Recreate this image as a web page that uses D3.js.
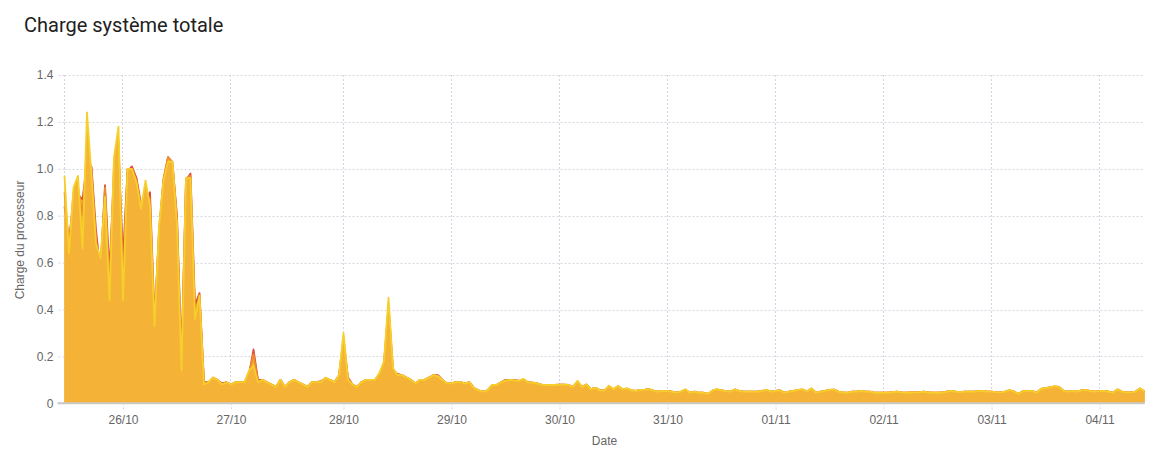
<!DOCTYPE html>
<html>
<head>
<meta charset="utf-8">
<script src="https://cdn.jsdelivr.net/npm/d3@7"></script>
<style>
body { margin: 0; background: #fff; }
svg { display: block; font-family: "Liberation Sans", Arial, sans-serif; }
</style>
</head>
<body>
<svg id="chart" width="1160" height="460"></svg>
<script>
var svg = d3.select("#chart");

// hourly samples starting 25/10/2019 11:00 (CEST)
var startTime = "2019-10-25T11:00:00+02:00";
var stepHours = 1;

var yellowLoad = [
  0.97,0.64,0.92,0.97,0.66,1.24,0.97,0.68,0.62,0.88,
  0.44,1.05,1.18,0.44,1.00,1.00,0.94,0.83,0.95,0.84,
  0.33,0.75,0.95,1.03,1.03,0.76,0.14,0.96,0.96,0.36,
  0.46,0.08,0.09,0.11,0.10,0.08,0.09,0.08,0.09,0.09,
  0.09,0.14,0.16,0.09,0.10,0.09,0.08,0.07,0.10,0.07,
  0.09,0.10,0.09,0.08,0.07,0.09,0.09,0.09,0.11,0.10,
  0.09,0.12,0.30,0.10,0.08,0.07,0.09,0.10,0.10,0.10,
  0.13,0.18,0.45,0.15,0.12,0.12,0.11,0.10,0.085,0.10,
  0.10,0.11,0.12,0.115,0.10,0.085,0.085,0.09,0.09,0.085,
  0.09,0.065,0.055,0.05,0.055,0.078,0.078,0.09,0.097,0.10,
  0.098,0.096,0.104,0.09,0.088,0.085,0.08,0.078,0.078,0.078,
  0.08,0.08,0.078,0.07,0.096,0.07,0.08,0.06,0.066,0.055,
  0.055,0.075,0.06,0.075,0.06,0.064,0.055,0.053,0.057,0.058,
  0.06,0.053,0.05,0.053,0.052,0.05,0.046,0.05,0.06,0.045,
  0.05,0.045,0.045,0.04,0.055,0.06,0.055,0.052,0.05,0.06,
  0.052,0.05,0.05,0.05,0.05,0.053,0.057,0.05,0.053,0.055,
  0.045,0.05,0.053,0.057,0.06,0.05,0.064,0.045,0.05,0.053,
  0.058,0.058,0.05,0.047,0.045,0.05,0.05,0.053,0.05,0.05,
  0.045,0.045,0.045,0.045,0.048,0.05,0.047,0.045,0.046,0.047,
  0.048,0.05,0.046,0.045,0.045,0.046,0.05,0.053,0.05,0.048,
  0.05,0.05,0.05,0.052,0.053,0.05,0.05,0.048,0.047,0.05,
  0.057,0.05,0.04,0.052,0.053,0.053,0.045,0.062,0.065,0.068,
  0.073,0.07,0.053,0.05,0.053,0.05,0.055,0.057,0.052,0.05,
  0.052,0.053,0.05,0.045,0.06,0.05,0.047,0.047,0.05,0.064,0.05
];

var orangeLoad = [
  0.90,0.66,0.90,0.92,0.80,1.10,0.99,0.70,0.58,0.92,
  0.50,1.02,1.12,0.52,1.00,1.00,0.95,0.84,0.90,0.87,
  0.34,0.74,0.96,1.05,1.03,0.78,0.17,0.96,0.97,0.38,
  0.46,0.085,0.09,0.11,0.10,0.08,0.09,0.08,0.09,0.09,
  0.09,0.13,0.21,0.095,0.10,0.09,0.08,0.07,0.10,0.07,
  0.09,0.10,0.09,0.08,0.07,0.09,0.09,0.092,0.108,0.10,
  0.09,0.12,0.28,0.105,0.08,0.07,0.09,0.10,0.10,0.10,
  0.125,0.17,0.42,0.145,0.122,0.12,0.11,0.10,0.085,0.10,
  0.10,0.11,0.12,0.117,0.10,0.085,0.085,0.09,0.09,0.085,
  0.09,0.065,0.055,0.05,0.055,0.076,0.078,0.09,0.098,0.10,
  0.099,0.096,0.102,0.09,0.088,0.085,0.08,0.078,0.078,0.078,
  0.08,0.08,0.078,0.07,0.093,0.07,0.08,0.06,0.066,0.055,
  0.055,0.073,0.06,0.073,0.06,0.063,0.055,0.053,0.057,0.058,
  0.06,0.053,0.05,0.053,0.052,0.05,0.046,0.05,0.058,0.045,
  0.05,0.045,0.045,0.04,0.054,0.059,0.055,0.052,0.05,0.059,
  0.052,0.05,0.05,0.05,0.05,0.053,0.056,0.05,0.053,0.055,
  0.045,0.05,0.053,0.056,0.059,0.05,0.063,0.045,0.05,0.053,
  0.057,0.058,0.05,0.047,0.045,0.05,0.05,0.053,0.05,0.05,
  0.045,0.045,0.045,0.045,0.048,0.05,0.047,0.045,0.046,0.047,
  0.048,0.05,0.046,0.045,0.045,0.046,0.05,0.052,0.05,0.048,
  0.05,0.05,0.05,0.052,0.053,0.05,0.05,0.048,0.047,0.05,
  0.056,0.05,0.04,0.052,0.053,0.053,0.045,0.061,0.065,0.068,
  0.072,0.07,0.053,0.05,0.053,0.05,0.055,0.057,0.052,0.05,
  0.052,0.053,0.05,0.045,0.059,0.05,0.047,0.047,0.05,0.063,0.05
];

var redLoad = [
  0.84,0.70,0.86,0.89,0.87,1.02,1.01,0.74,0.56,0.93,
  0.56,0.98,1.08,0.62,0.99,1.01,0.96,0.85,0.86,0.90,
  0.36,0.72,0.95,1.05,1.02,0.80,0.20,0.95,0.98,0.42,
  0.47,0.09,0.09,0.105,0.10,0.085,0.09,0.08,0.09,0.09,
  0.09,0.12,0.23,0.10,0.10,0.09,0.08,0.07,0.10,0.07,
  0.09,0.10,0.09,0.08,0.07,0.09,0.09,0.095,0.105,0.10,
  0.09,0.12,0.26,0.11,0.08,0.07,0.09,0.10,0.10,0.10,
  0.12,0.17,0.40,0.14,0.125,0.12,0.11,0.10,0.085,0.10,
  0.10,0.11,0.12,0.12,0.10,0.085,0.085,0.09,0.09,0.085,
  0.09,0.065,0.055,0.05,0.055,0.075,0.078,0.09,0.10,0.10,
  0.10,0.096,0.10,0.09,0.088,0.085,0.08,0.078,0.078,0.078,
  0.08,0.08,0.078,0.07,0.09,0.07,0.08,0.06,0.066,0.055,
  0.055,0.072,0.06,0.072,0.06,0.062,0.055,0.053,0.057,0.058,
  0.06,0.053,0.05,0.053,0.052,0.05,0.046,0.05,0.057,0.045,
  0.05,0.045,0.045,0.04,0.053,0.058,0.055,0.052,0.05,0.058,
  0.052,0.05,0.05,0.05,0.05,0.053,0.055,0.05,0.053,0.055,
  0.045,0.05,0.053,0.055,0.058,0.05,0.062,0.045,0.05,0.053,
  0.056,0.058,0.05,0.047,0.045,0.05,0.05,0.053,0.05,0.05,
  0.045,0.045,0.045,0.045,0.048,0.05,0.047,0.045,0.046,0.047,
  0.048,0.05,0.046,0.045,0.045,0.046,0.05,0.052,0.05,0.048,
  0.05,0.05,0.05,0.052,0.053,0.05,0.05,0.048,0.047,0.05,
  0.055,0.05,0.04,0.052,0.053,0.053,0.045,0.06,0.065,0.068,
  0.071,0.07,0.053,0.05,0.053,0.05,0.055,0.057,0.052,0.05,
  0.052,0.053,0.05,0.045,0.058,0.05,0.047,0.047,0.05,0.062,0.05
];

var xTickDates = ["2019-10-26T00:00:00+02:00", "2019-10-27T00:00:00+02:00", "2019-10-28T00:00:00+01:00",
                  "2019-10-29T00:00:00+01:00", "2019-10-30T00:00:00+01:00", "2019-10-31T00:00:00+01:00",
                  "2019-11-01T00:00:00+01:00", "2019-11-02T00:00:00+01:00", "2019-11-03T00:00:00+01:00",
                  "2019-11-04T00:00:00+01:00"];
var xTickLabels = ["26/10", "27/10", "28/10", "29/10", "30/10", "31/10", "01/11", "02/11", "03/11", "04/11"];
var yTickValues = [0, 0.2, 0.4, 0.6, 0.8, 1.0, 1.2, 1.4];
var yTickLabels = ["0", "0.2", "0.4", "0.6", "0.8", "1.0", "1.2", "1.4"];

var plotLeft = 64.5, plotRight = 1144.5, plotTop = 75, plotBottom = 403.3;
var t0 = new Date(startTime).getTime();
var timeAt = function(i) { return new Date(t0 + i * stepHours * 3600000); };
var tEnd = timeAt(yellowLoad.length - 1);
var tickDates = xTickDates.map(function(s) { return new Date(s); });

var x = d3.scaleUtc().domain([timeAt(0), tEnd]).range([plotLeft, plotRight]);
var y = d3.scaleLinear().domain([0, 1.4]).range([plotBottom, plotTop]);

// title
svg.append("text").attr("x", 24).attr("y", 32)
  .style("font-family", "Roboto, sans-serif").style("font-size", "20px").attr("fill", "#212121")
  .text("Charge système totale");

// grid
var grid = svg.append("g").attr("stroke", "#d6d6e0").attr("stroke-width", 1).attr("stroke-dasharray", "2,2");
grid.selectAll(".h").data(yTickValues.slice(1)).enter().append("line")
  .attr("x1", plotLeft).attr("x2", plotRight)
  .attr("y1", function(d) { return Math.round(y(d)) + 0.5; })
  .attr("y2", function(d) { return Math.round(y(d)) + 0.5; });
grid.selectAll(".v").data([timeAt(0)].concat(tickDates)).enter().append("line")
  .attr("x1", function(d) { return Math.round(x(d)) - 0.5; })
  .attr("x2", function(d) { return Math.round(x(d)) - 0.5; })
  .attr("y1", plotTop).attr("y2", plotBottom);

// series
var series = [
  { values: redLoad, stroke: "#dc4b3b" },
  { values: orangeLoad, stroke: "#ee8a2c" },
  { values: yellowLoad, stroke: "#f7cf2a" }
];
var area = d3.area().x(function(d, i) { return x(timeAt(i)); }).y0(plotBottom).y1(function(d) { return y(d); });
var line = d3.line().x(function(d, i) { return x(timeAt(i)); }).y(function(d) { return y(d); });

series.forEach(function(s) {
  svg.append("path").datum(s.values).attr("d", area).attr("fill", "#f4b336");
  svg.append("path").datum(s.values).attr("d", line).attr("fill", "none")
    .attr("stroke", s.stroke).attr("stroke-width", 1.8).attr("stroke-linejoin", "round");
});

// axes
var yAxis = d3.axisLeft(y).tickValues(yTickValues).tickSize(7).tickPadding(4)
  .tickFormat(function(d, i) { return yTickLabels[i]; });
var gy = svg.append("g").attr("transform", "translate(" + plotLeft + ",0)").call(yAxis);
gy.select(".domain").remove();
gy.selectAll("line").attr("stroke", "#d6d6e0").attr("stroke-dasharray", "2,2");
gy.selectAll("text").attr("fill", "#666").style("font-size", "12px");

var xAxis = d3.axisBottom(x).tickValues(tickDates).tickSize(7).tickPadding(5)
  .tickFormat(function(d, i) { return xTickLabels[i]; });
var gx = svg.append("g").attr("transform", "translate(0," + plotBottom + ")").call(xAxis);
gx.select(".domain").attr("d", "M" + (plotLeft - 7) + ",0H" + plotRight).attr("stroke", "#c8c8c8").attr("stroke-width", 2);
gx.selectAll("line").attr("stroke", "#d6d6e0").attr("stroke-dasharray", "2,2");
gx.selectAll("text").attr("fill", "#666").style("font-size", "12px");

// axis titles
svg.append("text").attr("x", (plotLeft + plotRight) / 2).attr("y", 445).attr("text-anchor", "middle")
  .attr("fill", "#666").style("font-size", "12px").text("Date");
svg.append("text").attr("transform", "translate(24,240) rotate(-90)").attr("text-anchor", "middle")
  .attr("fill", "#666").style("font-size", "12px").text("Charge du processeur");
</script>
</body>
</html>
